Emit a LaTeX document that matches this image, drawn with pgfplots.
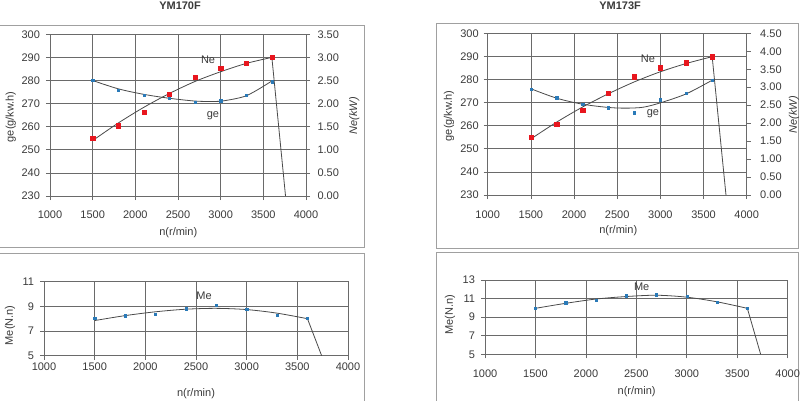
\documentclass[border=0pt]{standalone}
\usepackage{fontspec}
\setmainfont{Liberation Sans}
\usepackage{pgfplots}
\pgfplotsset{compat=1.18}
\definecolor{gridc}{HTML}{6A6A6A}
\definecolor{curvec}{HTML}{4A4A4A}
\definecolor{framec}{HTML}{A0A0A0}
\definecolor{txt}{HTML}{3A3A3A}
\definecolor{redm}{HTML}{E8161E}
\definecolor{bluem}{HTML}{2A7AB8}
\tikzset{lbl/.style={font=\fontsize{11}{13}\selectfont, text=txt}}
\pgfplotsset{
  base/.style={scale only axis, anchor=south west,
    xmin=1000, xmax=4000, xtick={1000,1500,...,4000},
    grid=major, grid style={gridc, line width=0.7pt},
    axis line style={gridc, line width=0.7pt},
    tick style={gridc, line width=0.7pt}, tick align=outside, major tick length=4pt,
    tick pos=left,
    ticklabel style={font=\fontsize{11}{13}\selectfont, text=txt},
    label style={font=\fontsize{11}{13}\selectfont, text=txt},
    /pgf/number format/assume math mode=true,
    /pgf/number format/set thousands separator={},
    yticklabel style={xshift=-2.5pt},
    xlabel={n(r/min)},
  },
  rightax/.style={scale only axis, anchor=south west,
    xmin=1000, xmax=4000, hide x axis, axis y line*=right,
    axis line style={gridc, line width=0.7pt},
    tick style={gridc, line width=0.7pt}, tick align=outside, major tick length=4pt,
    ticklabel style={font=\fontsize{11}{13}\selectfont, text=txt},
    label style={font=\fontsize{11}{13}\selectfont, text=txt},
    /pgf/number format/assume math mode=true,
    /pgf/number format/fixed, /pgf/number format/fixed zerofill, /pgf/number format/precision=2,
    yticklabel style={xshift=4pt},
    ylabel={\itshape Ne(kW)},
  },
  curve/.style={curvec, line width=0.8pt, smooth, no marks},
  gem/.style={only marks, mark=square*, mark size=1.1pt, bluem, mark options={draw=bluem, fill=bluem}},
  nem/.style={only marks, mark=square*, mark size=2.1pt, redm, mark options={draw=redm, fill=redm}},
}
\begin{document}
\begin{tikzpicture}[x=1pt,y=1pt]
\path[use as bounding box] (0,0) rectangle (800,400);
\draw[framec, line width=0.8pt] (-2,153) rectangle (364,375);
\draw[framec, line width=0.8pt] (436,152) rectangle (798,377);
\draw[framec, line width=0.8pt] (-2,-5) rectangle (364,147);
\draw[framec, line width=0.8pt] (436,-5) rectangle (798,147.3);

% ---------- Panel 1: YM170F ----------
\begin{axis}[base, at={(50pt,204pt)}, width=256pt, height=161.7pt,
  ymin=230, ymax=300, ytick={230,240,...,300},
  xticklabel style={yshift=-7pt},
  ylabel={ge(g/kw.h)},
  ylabel style={at={(axis description cs:-0.1535,0.49)}, anchor=center},
  xlabel style={at={(axis description cs:0.501,-0.2288)}, anchor=center},
  title={YM170F},
  title style={at={(axis description cs:0.508,1.138)}, anchor=center, font=\bfseries\fontsize{11}{13}\selectfont, text=txt},
]
\addplot[curve] coordinates {(1500,280.0) (1800,276.4) (2100,274.0) (2400,272.3) (2700,271.1) (2900,270.9) (3000,271.0) (3300,273.4) (3600,279.8)};
\addplot[gem] coordinates {(1500,280.0) (1800,275.9) (2100,273.7) (2400,272.6) (2700,270.7) (3000,271.3) (3300,273.7) (3600,279.5)};
\node[lbl] at (axis cs:2852,288.9) {Ne};
\node[lbl] at (axis cs:2910,264.6) {ge};
\end{axis}
\begin{axis}[rightax, at={(50pt,204pt)}, width=256pt, height=161.7pt,
  ymin=0, ymax=3.5, ytick={0,0.5,...,3.5},
  ylabel style={at={(axis description cs:1.1887,0.496)}, anchor=center},
]
\addplot[curve] coordinates {(1500,1.20) (1800,1.58) (2100,1.92) (2400,2.22) (2700,2.48) (3000,2.69) (3300,2.87) (3600,3.00)};
\addplot[curvec, line width=0.8pt] coordinates {(3600,3.00) (3760,0)};
\addplot[nem] coordinates {(1500,1.25) (1800,1.52) (2100,1.82) (2400,2.21) (2700,2.57) (3000,2.76) (3300,2.87) (3600,3.00)};
\end{axis}

% ---------- Panel 2: YM173F ----------
\begin{axis}[base, at={(487.7pt,205pt)}, width=259pt, height=161.7pt,
  ymin=230, ymax=300, ytick={230,240,...,300},
  xticklabel style={yshift=-8pt},
  yticklabel style={xshift=1pt},
  ylabel={ge(g/kw.h)},
  ylabel style={at={(axis description cs:-0.1494,0.49)}, anchor=center},
  xlabel style={at={(axis description cs:0.504,-0.2208)}, anchor=center},
  title={YM173F},
  title style={at={(axis description cs:0.511,1.132)}, anchor=center, font=\bfseries\fontsize{11}{13}\selectfont, text=txt},
]
\addplot[curve] coordinates {(1500,276.0) (1800,271.9) (2100,269.3) (2400,267.9) (2600,267.6) (2800,268.0) (3000,269.9) (3300,273.8) (3600,279.7)};
\addplot[gem] coordinates {(1500,275.9) (1800,272.1) (2100,269.3) (2400,267.8) (2700,265.6) (3000,271.3) (3300,273.9) (3600,279.7)};
\node[lbl] at (axis cs:2857,288.9) {Ne};
\node[lbl] at (axis cs:2914,265.1) {ge};
\end{axis}
\begin{axis}[rightax, at={(487.7pt,205pt)}, width=259pt, height=161.7pt,
  ymin=0, ymax=4.5, ytick={0,0.5,...,4.5},
  yticklabel style={xshift=2pt},
  ylabel style={at={(axis description cs:1.1826,0.496)}, anchor=center},
]
\addplot[curve] coordinates {(1500,1.56) (1800,2.03) (2100,2.45) (2400,2.82) (2700,3.15) (3000,3.43) (3300,3.66) (3600,3.85)};
\addplot[curvec, line width=0.8pt] coordinates {(3600,3.85) (3760,0)};
\addplot[nem] coordinates {(1500,1.61) (1800,1.98) (2100,2.35) (2400,2.83) (2700,3.29) (3000,3.54) (3300,3.68) (3600,3.85)};
\end{axis}

% ---------- Panel 3: YM170F torque ----------
\begin{axis}[base, at={(44pt,44.3pt)}, width=304pt, height=74pt,
  ymin=5, ymax=11, ytick={5,7,9,11},
  ylabel={Me(N.n)},
  ylabel style={at={(axis description cs:-0.1118,0.41)}, anchor=center},
  xlabel style={at={(axis description cs:0.5,-0.5176)}, anchor=center},
]
\addplot[curve] coordinates {(1500,7.85) (1800,8.25) (2100,8.56) (2400,8.77) (2700,8.84) (3000,8.74) (3300,8.45) (3600,8.00)};
\addplot[curvec, line width=0.8pt] coordinates {(3600,8.00) (3740,5)};
\addplot[gem] coordinates {(1500,8.06) (1800,8.24) (2100,8.35) (2400,8.81) (2700,9.11) (3000,8.79) (3300,8.30) (3600,8.03)};
\node[lbl] at (axis cs:2579,9.87) {Me};
\end{axis}

% ---------- Panel 4: YM173F torque ----------
\begin{axis}[base, at={(485pt,45.7pt)}, width=302.7pt, height=74.3pt,
  ymin=5, ymax=13, ytick={5,7,9,11,13},
  xticklabel style={yshift=-8pt},
  ylabel={Me(N.n)},
  ylabel style={at={(axis description cs:-0.1156,0.529)}, anchor=center},
  xlabel style={at={(axis description cs:0.501,-0.503)}, anchor=center},
]
\addplot[curve] coordinates {(1500,9.95) (1800,10.49) (2100,10.95) (2400,11.22) (2700,11.36) (3000,11.15) (3300,10.65) (3600,9.95)};
\addplot[curvec, line width=0.8pt] coordinates {(3600,9.95) (3732,5)};
\addplot[gem] coordinates {(1500,9.95) (1800,10.56) (2100,10.85) (2400,11.31) (2700,11.42) (3000,11.24) (3300,10.63) (3600,9.95)};
\node[lbl] at (axis cs:2553,12.28) {Me};
\end{axis}
\end{tikzpicture}
\end{document}
